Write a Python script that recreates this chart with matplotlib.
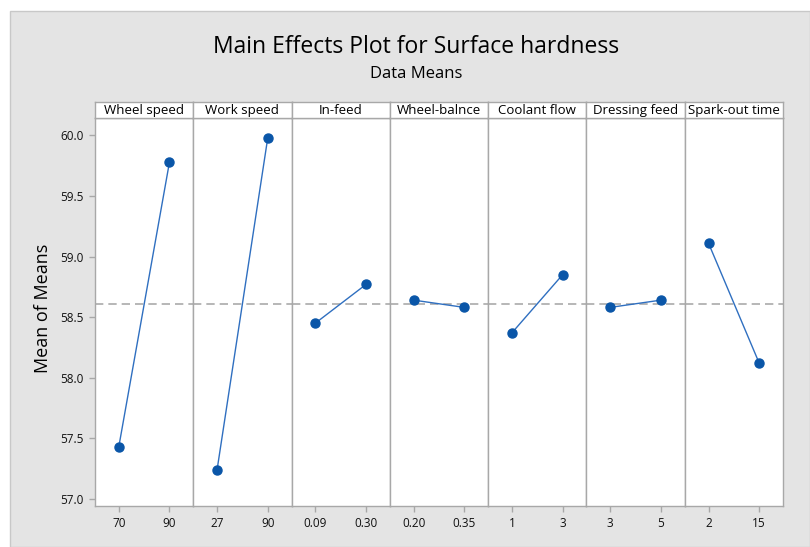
import matplotlib
matplotlib.use("Agg")
import matplotlib.pyplot as plt
from matplotlib.patches import Rectangle

factors = ["Wheel speed", "Work speed", "In-feed", "Wheel-balnce",
           "Coolant flow", "Dressing feed", "Spark-out time"]
levels = [["70", "90"], ["27", "90"], ["0.09", "0.30"], ["0.20", "0.35"],
          ["1", "3"], ["3", "5"], ["2", "15"]]
means = [[57.43, 59.78], [57.24, 59.98], [58.45, 58.77], [58.64, 58.58],
         [58.37, 58.85], [58.58, 58.64], [59.11, 58.12]]
grand_mean = 58.61
yticks = [57.0, 57.5, 58.0, 58.5, 59.0, 59.5, 60.0]

plt.rcParams['font.family'] = ['Open Sans', 'DejaVu Sans']

W, H = 810, 547
fig = plt.figure(figsize=(W / 100, H / 100), dpi=100, facecolor="white")

# grey background panel
fig.patches.append(Rectangle((10 / W, 0), (W - 10) / W, (H - 11) / H,
                             transform=fig.transFigure, facecolor="#e4e4e4",
                             edgecolor="#c8c8c8", linewidth=1, zorder=-10))

fig.text(416 / W, 1 - 47 / H, "Main Effects Plot for Surface hardness",
         ha="center", va="center", fontsize=16.5, color="#000000")
fig.text(416 / W, 1 - 74 / H, "Data Means", ha="center", va="center",
         fontsize=12, color="#000000")
fig.text(43 / W, 1 - 308 / H, "Mean of Means", ha="center", va="center",
         rotation=90, fontsize=13, color="#000000")

left, right = 95, 783
top, bottom = 118, 506
strip_top = 102
n = len(factors)
pw = (right - left) / n
edge = "#a8a8a8"
line_col = "#2f6fc0"
mark_col = "#0a56a8"

for i in range(n):
    x0 = left + i * pw
    ax = fig.add_axes([x0 / W, 1 - bottom / H, pw / W, (bottom - top) / H])
    ax.set_facecolor("white")
    ax.plot([0, 1], means[i], color=line_col, lw=1.0, zorder=3)
    ax.plot([0, 1], means[i], ls="none", marker="o", ms=6.5,
            color=mark_col, zorder=4)
    ax.axhline(grand_mean, color="#aaaaaa", lw=1.2, ls=(0, (5, 3)), zorder=2)
    ax.set_xlim(-0.47, 1.47)
    ax.set_ylim(56.94, 60.144)
    ax.set_xticks([0, 1])
    ax.set_xticklabels(levels[i], fontsize=8.5, color="#111111")
    ax.set_yticks(yticks)
    if i == 0:
        ax.set_yticklabels([f"{v:.1f}" for v in yticks], fontsize=8.5,
                           color="#111111")
    else:
        ax.tick_params(axis="y", left=False, labelleft=False)
    ax.tick_params(axis="both", direction="out", length=4, width=1,
                   color=edge, pad=4)
    for s in ax.spines.values():
        s.set_color(edge)
        s.set_linewidth(1.0)
    # strip
    sx = fig.add_axes([x0 / W, 1 - top / H, pw / W, (top - strip_top) / H])
    sx.set_facecolor("white")
    sx.set_xticks([])
    sx.set_yticks([])
    for s in sx.spines.values():
        s.set_color(edge)
        s.set_linewidth(1.0)
    sx.text(0.5, 0.45, factors[i], ha="center", va="center",
            fontsize=9.5, color="#000000", transform=sx.transAxes)

fig.savefig("out.png", dpi=100, facecolor="white")
